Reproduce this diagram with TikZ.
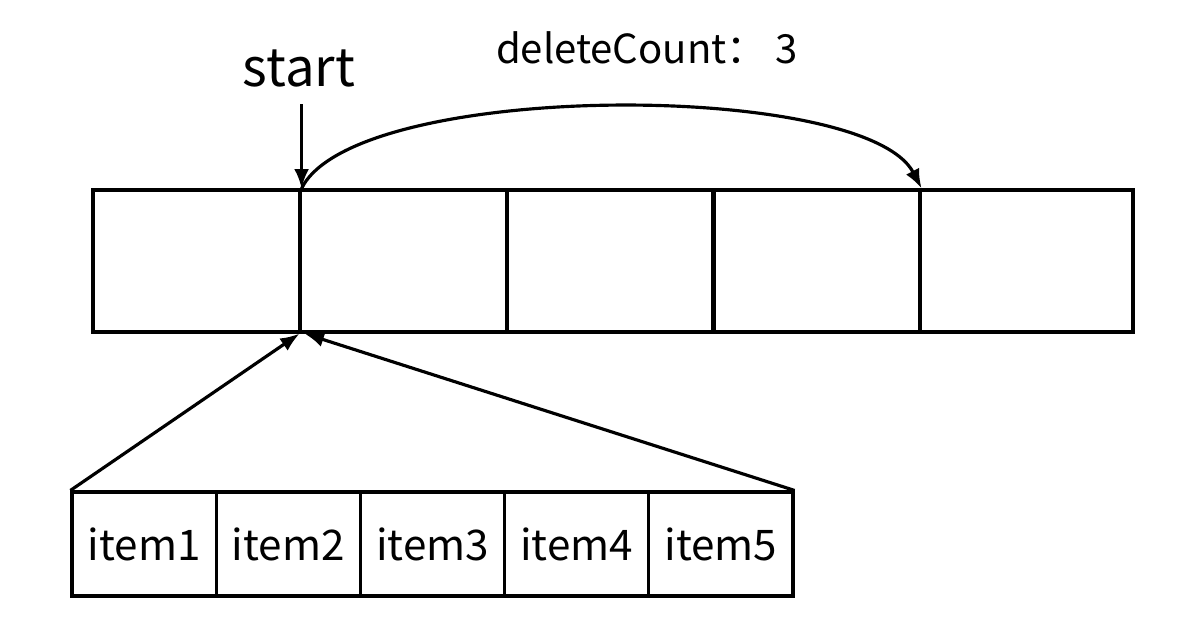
\documentclass[tikz,border=0pt]{standalone}
\usepackage{fontspec}
\setmainfont{Noto Sans CJK SC}
\usetikzlibrary{arrows.meta,positioning}

\begin{document}
\begin{tikzpicture}[
    cell/.style={rectangle, draw, line width=0.9pt, inner sep=0pt, minimum width=2.07cm, minimum height=1.42cm},
    item/.style={rectangle, draw, line width=0.9pt, inner sep=0pt, minimum width=1.442cm, minimum height=1.04cm, font=\fontsize{12}{14}\selectfont},
    link/.style={-{Latex[length=5.5pt,width=4.2pt]}, line width=0.9pt},
    label/.style={font=\fontsize{11.4}{14}\selectfont}
]
    \useasboundingbox (0,0) rectangle (11.78,-6.28);

    % Array (top row)
    \node[cell] (cell1) at (1.965,-2.61) {};
    \node[cell] (cell2) at (4.035,-2.61) {};
    \node[cell] (cell3) at (6.105,-2.61) {};
    \node[cell] (cell4) at (8.165,-2.61) {};
    \node[cell, minimum width=2.13cm] (cell5) at (10.265,-2.61) {};

    % Inserted items (bottom row)
    \node[item] (item1) at (1.441,-5.44) {item1};
    \node[item] (item2) at (2.883,-5.44) {item2};
    \node[item] (item3) at (4.325,-5.44) {item3};
    \node[item] (item4) at (5.767,-5.44) {item4};
    \node[item] (item5) at (7.209,-5.44) {item5};

    % Start pointer
    \node[font=\fontsize{15}{18}\selectfont] (start) at (2.99,-0.68) {start};
    \coordinate (startend) at (cell1.north east);
    \draw[link] (start.south -| startend) ++(0,-0.05) -- (startend);

    % Deleted range
    \node[label] (count) at (6.47,-0.48) {deleteCount： 3};
    \draw[link] (cell1.north east) .. controls (3.55,-0.8) and (8.65,-0.8) .. (cell4.north east);

    % Items inserted at start
    \draw[link] (item1.north west) -- ([xshift=-0.02cm]cell1.south east);
    \draw[link] (item5.north east) -- ([xshift=0.03cm]cell1.south east);
\end{tikzpicture}
\end{document}
